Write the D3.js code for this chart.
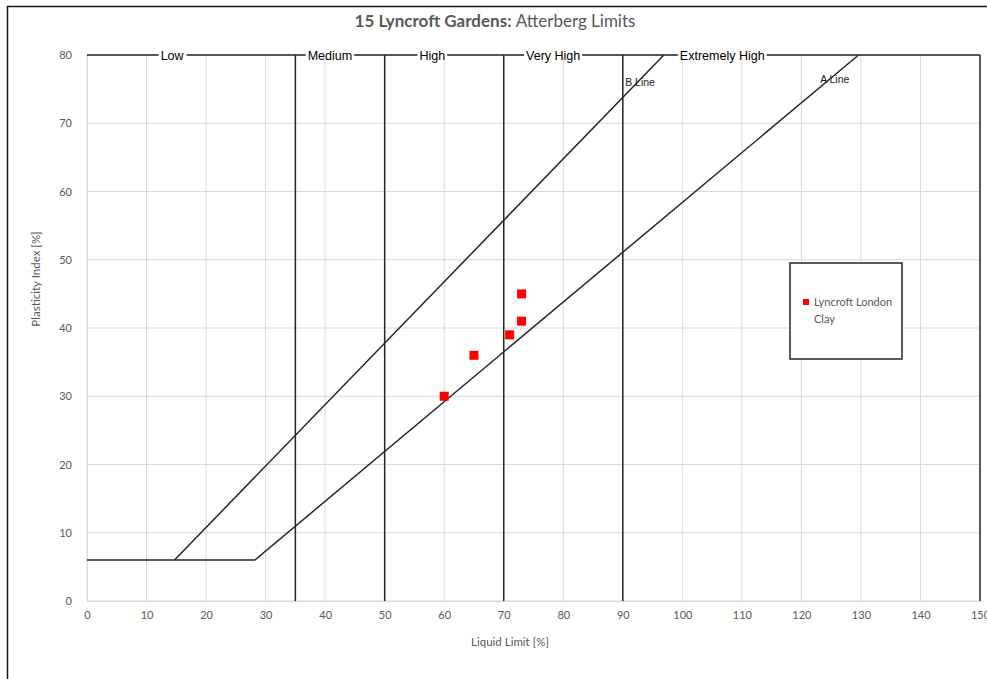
<!DOCTYPE html>
<html>
<head>
<meta charset="utf-8">
<script src="https://cdn.jsdelivr.net/npm/d3@7"></script>
<style>
  html, body { margin: 0; padding: 0; background: #fff; }
  svg { display: block; }
</style>
</head>
<body>
<svg id="chart" width="987" height="679"></svg>
<script>
// Atterberg limits: plasticity chart with A/B lines and plasticity zones
const xTicks = [0, 10, 20, 30, 40, 50, 60, 70, 80, 90, 100, 110, 120, 130, 140, 150];
const yTicks = [0, 10, 20, 30, 40, 50, 60, 70, 80];

// Sample results (Liquid Limit %, Plasticity Index %)
const sampleLL = [60, 65, 71, 73, 73];
const samplePI = [30, 36, 39, 41, 45];

// Plasticity zone boundaries on the LL axis
const zoneBounds = [35, 50, 70, 90, 150];
const zoneNames = ["Low", "Medium", "High", "Very High", "Extremely High"];
const zoneLabelLL = [14.3, 40.8, 58, 78.3, 106.7];

// A-line: PI = 0.73 (LL - 20), floor at PI = 6
const aLineLL = [0, 28.2, 129.6];
const aLinePI = [6, 6, 80];
// B-line: PI = 0.9 (LL - 8)
const bLineLL = [14.7, 96.9];
const bLinePI = [6, 80];

const lineLabels = ["B Line", "A Line"];
const lineLabelLL = [92.9, 125.6];
const lineLabelPI = [75.8, 76.3];

const svg = d3.select("#chart");
const W = 987, H = 679;
const m = { left: 87, right: 7, top: 55, bottom: 78 };

const x = d3.scaleLinear().domain([0, 150]).range([m.left, W - m.right]);
const y = d3.scaleLinear().domain([0, 80]).range([H - m.bottom, m.top]);

const uiFont = "Lato, 'Open Sans', sans-serif";
const arial = "'Liberation Sans', Arial, sans-serif";

// outer frame
svg.append("path")
  .attr("d", `M7.5,${H} V6.5 H${W}`)
  .attr("fill", "none").attr("stroke", "#1a1a1a").attr("stroke-width", 1.5);

// title
const title = svg.append("text")
  .attr("x", 495).attr("y", 27)
  .attr("text-anchor", "middle")
  .attr("font-family", uiFont).attr("font-size", 17)
  .attr("fill", "#595959");
title.append("tspan").attr("font-weight", "bold").text("15 Lyncroft Gardens: ");
title.append("tspan").text("Atterberg Limits");

// gridlines
const grid = svg.append("g");
grid.selectAll("line.vx").data(xTicks).join("line")
  .attr("x1", d => x(d)).attr("x2", d => x(d))
  .attr("y1", y(0)).attr("y2", y(80))
  .attr("stroke", "#d9d9d9").attr("stroke-width", 1);
grid.selectAll("line.hy").data(yTicks).join("line")
  .attr("x1", x(0)).attr("x2", x(150))
  .attr("y1", d => y(d)).attr("y2", d => y(d))
  .attr("stroke", "#d9d9d9").attr("stroke-width", 1);

// axes
const xAxis = svg.append("g")
  .attr("transform", `translate(0,${y(0)})`)
  .call(d3.axisBottom(x).tickValues(xTicks).tickSize(0).tickPadding(10));
const yAxis = svg.append("g")
  .attr("transform", `translate(${x(0)},0)`)
  .call(d3.axisLeft(y).tickValues(yTicks).tickSize(0).tickPadding(15));
[xAxis, yAxis].forEach(g => {
  g.select(".domain").attr("stroke", "#d9d9d9");
  g.selectAll("text").attr("font-family", uiFont).attr("font-size", 11).attr("fill", "#595959");
});

// axis titles
svg.append("text")
  .attr("x", 510).attr("y", 646)
  .attr("text-anchor", "middle")
  .attr("font-family", uiFont).attr("font-size", 11.5).attr("fill", "#595959")
  .text("Liquid Limit [%]");
svg.append("text")
  .attr("transform", "translate(40,279) rotate(-90)")
  .attr("text-anchor", "middle")
  .attr("font-family", uiFont).attr("font-size", 11.5).attr("fill", "#595959")
  .text("Plasticity Index [%]");

// zone boundaries
const zoneG = svg.append("g");
zoneG.selectAll("line").data(zoneBounds).join("line")
  .attr("x1", d => x(d)).attr("x2", d => x(d))
  .attr("y1", y(0)).attr("y2", y(80))
  .attr("stroke", d => d === 150 ? "#595959" : "#262626")
  .attr("stroke-width", d => d === 150 ? 2 : 1.5);
zoneG.append("line")
  .attr("x1", x(0)).attr("x2", x(150))
  .attr("y1", y(80)).attr("y2", y(80))
  .attr("stroke", "#262626").attr("stroke-width", 1.5);

// zone names sit on the top boundary, breaking the line
zoneNames.forEach((name, i) => {
  const t = zoneG.append("text")
    .attr("x", x(zoneLabelLL[i])).attr("y", y(80) + 4.5)
    .attr("text-anchor", "middle")
    .attr("font-family", arial).attr("font-size", 12.5).attr("fill", "#000")
    .text(name);
  const bb = t.node().getBBox();
  zoneG.insert("rect", "text")
    .attr("x", bb.x - 2).attr("y", y(80) - 2)
    .attr("width", bb.width + 4).attr("height", 4)
    .attr("fill", "#fff");
});

// A and B lines
const lineGen = d3.line().x(d => x(d[0])).y(d => y(d[1]));
const aPts = aLineLL.map((v, i) => [v, aLinePI[i]]);
const bPts = bLineLL.map((v, i) => [v, bLinePI[i]]);
[aPts, bPts].forEach(pts => {
  svg.append("path").attr("d", lineGen(pts))
    .attr("fill", "none").attr("stroke", "#262626").attr("stroke-width", 1.5);
});

lineLabels.forEach((lab, i) => {
  svg.append("text")
    .attr("x", x(lineLabelLL[i])).attr("y", y(lineLabelPI[i]))
    .attr("text-anchor", "middle").attr("dominant-baseline", "middle")
    .attr("font-family", arial).attr("font-size", 10.5)
    .attr("fill", "#1a1a1a")
    .text(lab);
});

// sample points
const pts = sampleLL.map((v, i) => [v, samplePI[i]]);
svg.append("g").selectAll("rect").data(pts).join("rect")
  .attr("x", d => x(d[0]) - 4.5).attr("y", d => y(d[1]) - 4.5)
  .attr("width", 9).attr("height", 9)
  .attr("fill", "#ff0000");

// legend
const leg = svg.append("g").attr("transform", "translate(790,263)");
leg.append("rect").attr("x", 0).attr("y", 0).attr("width", 112).attr("height", 96)
  .attr("fill", "#fff").attr("stroke", "#262626").attr("stroke-width", 1.5);
leg.append("rect").attr("x", 13).attr("y", 36).attr("width", 6).attr("height", 6).attr("fill", "#ff0000");
const lt = leg.append("text")
  .attr("font-family", uiFont).attr("font-size", 11).attr("fill", "#595959");
lt.append("tspan").attr("x", 24).attr("y", 43).text("Lyncroft London");
lt.append("tspan").attr("x", 24).attr("y", 60).text("Clay");
</script>
</body>
</html>
